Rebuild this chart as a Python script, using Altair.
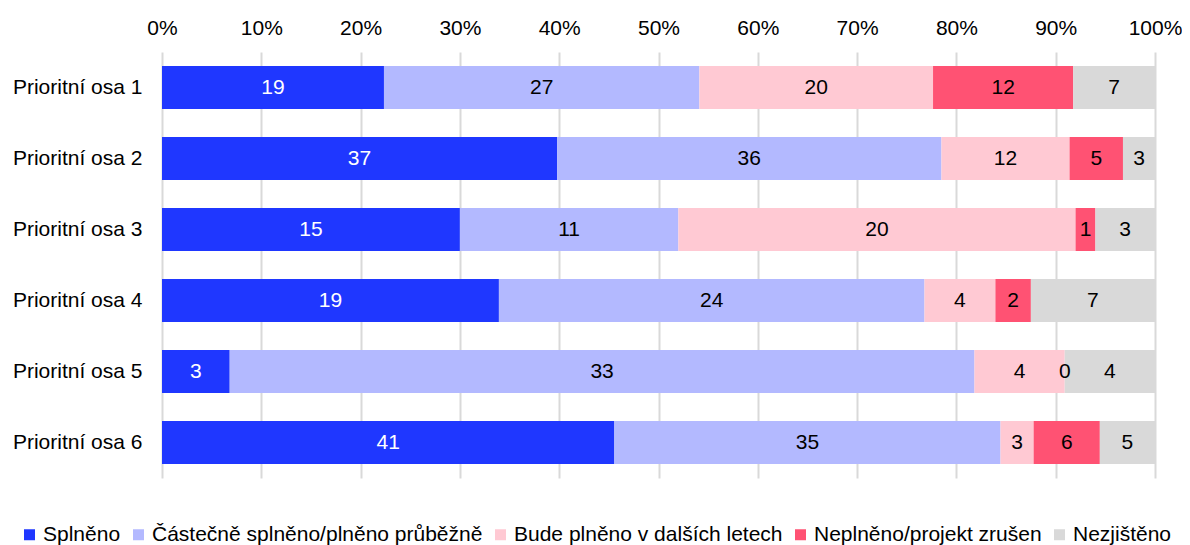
import altair as alt
import pandas as pd

osy = ["Prioritní osa 1", "Prioritní osa 2", "Prioritní osa 3",
       "Prioritní osa 4", "Prioritní osa 5", "Prioritní osa 6"]
kategorie = ["Splněno", "Částečně splněno/plněno průběžně",
             "Bude plněno v dalších letech", "Neplněno/projekt zrušen", "Nezjištěno"]
splneno = [19, 37, 15, 19, 3, 41]
castecne = [27, 36, 11, 24, 33, 35]
bude = [20, 12, 20, 4, 4, 3]
neplneno = [12, 5, 1, 2, 0, 6]
nezjisteno = [7, 3, 3, 7, 4, 5]
barvy = ["#1F37FF", "#B3B9FF", "#FFC9D3", "#FF5273", "#D9D9D9"]

series = [splneno, castecne, bude, neplneno, nezjisteno]
rows = []
for ci, (kat, vals) in enumerate(zip(kategorie, series)):
    for oi, osa in enumerate(osy):
        rows.append({"osa": osa, "kat": kat, "value": vals[oi], "order": ci})
df = pd.DataFrame(rows)

FONT = "Liberation Sans"
FS = 21

base = alt.Chart(df).transform_stack(
    stack="value", as_=["x0", "x1"], groupby=["osa"], offset="normalize",
    sort=[alt.SortField("order", order="ascending")]
).transform_calculate(mid="(datum.x0 + datum.x1) / 2")

y_enc = alt.Y("osa:N", sort=osy, title=None,
              scale=alt.Scale(paddingInner=0.394, paddingOuter=0.197),
              axis=alt.Axis(domain=False, ticks=False, labelFontSize=FS,
                            labelFont=FONT, labelColor="#000000", labelPadding=20))

bars = base.mark_bar().encode(
    x=alt.X("x0:Q", title=None,
            scale=alt.Scale(domain=[0, 1], nice=False),
            axis=alt.Axis(orient="top", format="%", values=[i / 10 for i in range(11)],
                          domain=False, ticks=False, grid=True, gridColor="#D9D9D9",
                          gridWidth=2, labelFontSize=FS, labelFont=FONT, labelFlush=False,
                          labelColor="#000000", labelPadding=14)),
    x2="x1:Q",
    y=y_enc,
    color=alt.Color("kat:N", sort=kategorie,
                    scale=alt.Scale(domain=kategorie, range=barvy),
                    legend=alt.Legend(title=None, orient="none", direction="horizontal",
                                      legendX=-143, legendY=472, symbolType="square",
                                      symbolSize=121, symbolStrokeWidth=0,
                                      labelFontSize=FS, labelFont=FONT, labelLimit=0,
                                      labelColor="#000000", columnPadding=7,
                                      labelOffset=3)),
    order=alt.Order("order:Q"),
)

texts = base.mark_text(fontSize=FS, font=FONT).encode(
    x=alt.X("mid:Q"),
    y=alt.Y("osa:N", sort=osy),
    text=alt.Text("value:Q"),
    color=alt.condition(alt.datum.kat == "Splněno", alt.value("#FFFFFF"), alt.value("#000000")),
)

chart = alt.layer(bars, texts).properties(
    width=993, height=426,
    autosize=alt.AutoSizeParams(type="none"),
    padding={"left": 154, "top": 44, "right": 27, "bottom": 67},
).configure_view(stroke=None)

chart.save("out.html", embed_options={"renderer": "svg", "actions": False})
